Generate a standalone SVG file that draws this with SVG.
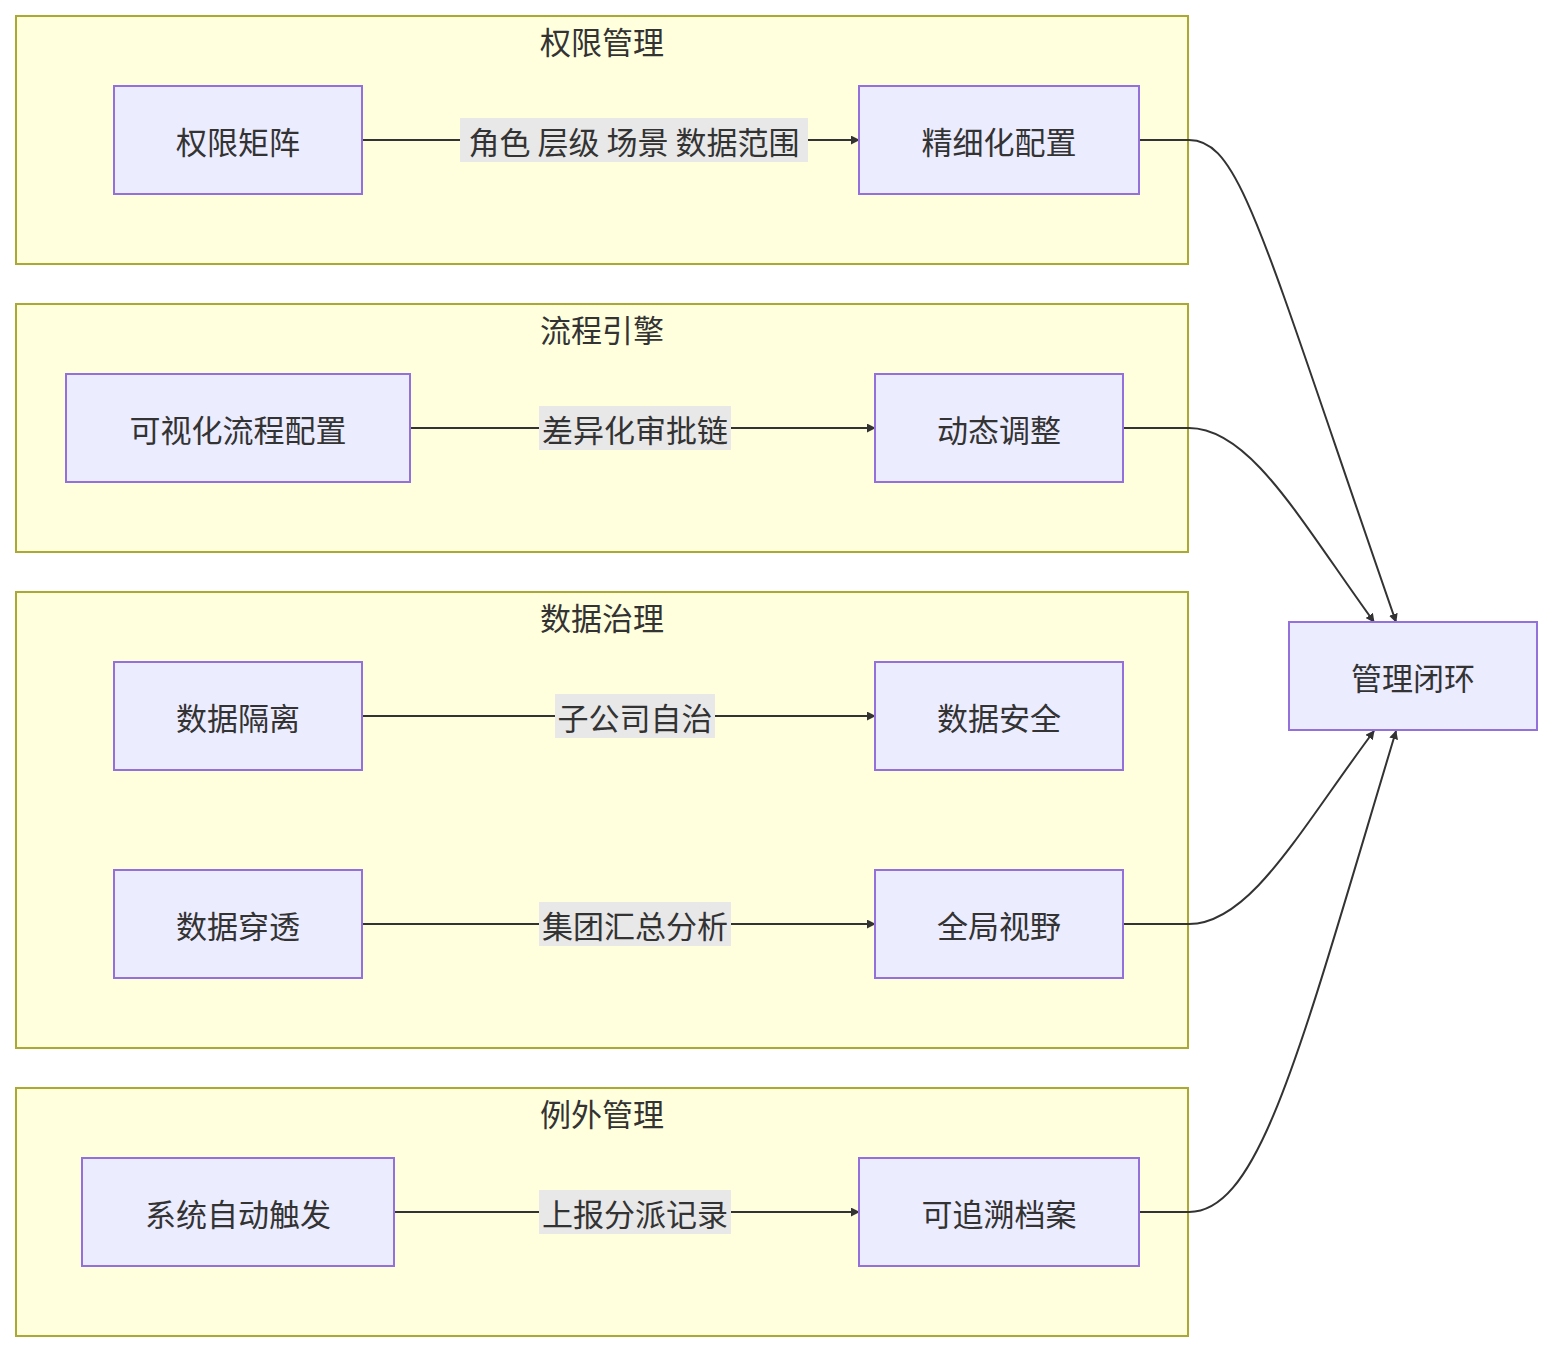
<svg xmlns="http://www.w3.org/2000/svg" width="1552" height="1352" viewBox="0 0 1552 1352">
<style>
.c{fill:#ffffde;stroke:#aaaa33;stroke-width:2}
.n{fill:#ececff;stroke:#9370db;stroke-width:2}
text{font-family:"Noto Sans CJK SC","Noto Sans",sans-serif;font-size:31px;fill:#333;text-anchor:middle;dominant-baseline:central}
.e{fill:none;stroke:#333;stroke-width:2;marker-end:url(#a)}
.lb{fill:#e8e8e8}
</style>
<defs><marker id="a" viewBox="0 0 10 10" refX="9" refY="5" markerWidth="9" markerHeight="9" orient="auto" markerUnits="userSpaceOnUse" ><path d="M0,0L10,5L0,10z" fill="#333"/></marker></defs>
<rect width="1552" height="1352" fill="#fff"/>
<g id="c1"><rect class="c" x="16" y="16" width="1172" height="248"/><text x="602" y="40">权限管理</text></g>
<g id="c2"><rect class="c" x="16" y="304" width="1172" height="248"/><text x="602" y="328">流程引擎</text></g>
<g id="c3"><rect class="c" x="16" y="592" width="1172" height="456"/><text x="602" y="616">数据治理</text></g>
<g id="c4"><rect class="c" x="16" y="1088" width="1172" height="248"/><text x="602" y="1112">例外管理</text></g>
<g id="edges">
<path class="e" d="M362,140H859"/>
<path class="e" d="M410,428H875"/>
<path class="e" d="M362,716H875"/>
<path class="e" d="M362,924H875"/>
<path class="e" d="M394,1212H859"/>
<path class="e" d="M1139,140H1189C1240,140 1260,230 1396,622"/>
<path class="e" d="M1123,428H1189C1250,428 1300,520 1374,622"/>
<path class="e" d="M1123,924H1189C1250,924 1300,830 1374,731"/>
<path class="e" d="M1139,1212H1189C1260,1212 1300,1050 1396,731"/>
<rect class="lb" x="460" y="118" width="348" height="44"/><text x="634" y="140">角色 层级 场景 数据范围</text>
<rect class="lb" x="539" y="406" width="192" height="44"/><text x="635" y="428">差异化审批链</text>
<rect class="lb" x="555" y="694" width="160" height="44"/><text x="635" y="716">子公司自治</text>
<rect class="lb" x="539" y="902" width="192" height="44"/><text x="635" y="924">集团汇总分析</text>
<rect class="lb" x="539" y="1190" width="192" height="44"/><text x="635" y="1212">上报分派记录</text>
</g>
<g id="n1"><rect class="n" x="114" y="86" width="248" height="108"/><text x="238" y="140">权限矩阵</text></g>
<g id="n2"><rect class="n" x="859" y="86" width="280" height="108"/><text x="999" y="140">精细化配置</text></g>
<g id="n3"><rect class="n" x="66" y="374" width="344" height="108"/><text x="238" y="428">可视化流程配置</text></g>
<g id="n4"><rect class="n" x="875" y="374" width="248" height="108"/><text x="999" y="428">动态调整</text></g>
<g id="n5"><rect class="n" x="114" y="662" width="248" height="108"/><text x="238" y="716">数据隔离</text></g>
<g id="n6"><rect class="n" x="875" y="662" width="248" height="108"/><text x="999" y="716">数据安全</text></g>
<g id="n7"><rect class="n" x="114" y="870" width="248" height="108"/><text x="238" y="924">数据穿透</text></g>
<g id="n8"><rect class="n" x="875" y="870" width="248" height="108"/><text x="999" y="924">全局视野</text></g>
<g id="n9"><rect class="n" x="82" y="1158" width="312" height="108"/><text x="238" y="1212">系统自动触发</text></g>
<g id="n10"><rect class="n" x="859" y="1158" width="280" height="108"/><text x="999" y="1212">可追溯档案</text></g>
<g id="n11"><rect class="n" x="1289" y="622" width="248" height="108"/><text x="1413" y="676">管理闭环</text></g>
</svg>
